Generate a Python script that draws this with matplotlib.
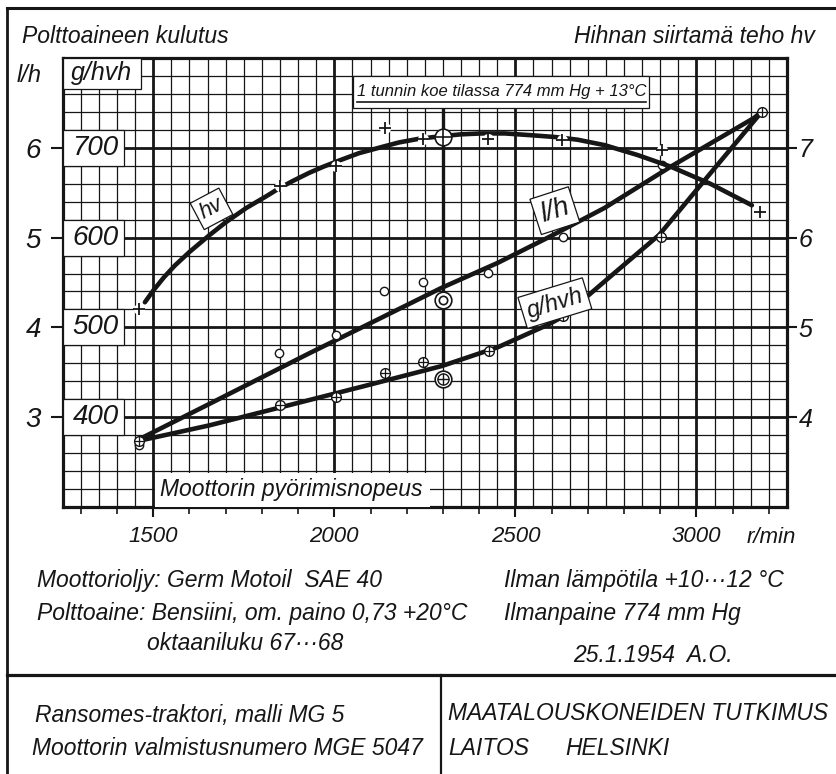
import numpy as np
import matplotlib
matplotlib.use("Agg")
import matplotlib.pyplot as plt
from matplotlib.patches import Rectangle
from matplotlib.lines import Line2D

plt.rcParams["font.family"] = ["Liberation Sans", "DejaVu Sans"]
plt.rcParams["font.style"] = "italic"

INK = "#161616"
W, H = 836, 774

# --- data (r/min) ---
# belt power hv, fair curve and measured points
hv_curve_rpm = [1477, 1500, 1530, 1560, 1600, 1656, 1700, 1757, 1812, 1848, 1885, 1930,
                1970, 2008, 2068, 2132, 2179, 2233, 2297, 2350, 2407, 2471, 2544, 2610,
                2672, 2746, 2837, 2929, 3038, 3153]
hv_curve = [5.28, 5.41, 5.56, 5.69, 5.84, 6.03, 6.17, 6.33, 6.46, 6.55, 6.63, 6.72,
            6.79, 6.85, 6.94, 7.01, 7.06, 7.10, 7.13, 7.15, 7.16, 7.16, 7.14, 7.12,
            7.09, 7.03, 6.92, 6.79, 6.60, 6.36]
hv_rpm = [1460, 1850, 2005, 2140, 2245, 2425, 2630, 2905, 3175]
hv_val = [5.21, 6.58, 6.80, 7.22, 7.10, 7.10, 7.09, 6.98, 6.29]

# fuel consumption l/h
lh_curve_rpm = [1464, 1656, 1930, 2086, 2296, 2452, 2590, 2746, 2929, 3158, 3180]
lh_curve = [2.76, 3.15, 3.71, 4.02, 4.44, 4.72, 5.00, 5.33, 5.79, 6.33, 6.40]
lh_rpm = [1461, 1848, 2005, 2137, 2246, 2423, 2631, 2906, 3180]
lh_val = [2.69, 3.71, 3.92, 4.41, 4.51, 4.61, 5.01, 5.81, 6.40]

# specific consumption g/hvh
g_curve_rpm = [1464, 1656, 1930, 2086, 2297, 2452, 2590, 2636, 2766, 2897, 3029, 3180]
g_curve = [374, 391, 419, 435, 457, 478, 503, 513, 558, 603, 667, 740]
g_rpm = [1461, 1850, 2005, 2141, 2246, 2427, 2631, 2901, 3180]
g_val = [374, 414, 422, 449, 462, 474, 513, 601, 740]

# 1 hour test run
test_rpm = 2300
test_hv = 7.12
test_lh = 4.30
test_g = 443

x_ticks = [1500, 2000, 2500, 3000]
lh_ticks = [3, 4, 5, 6]
g_ticks = [400, 500, 600, 700]
hv_ticks = [4, 5, 6, 7]


def px(x, y):
    return x / W, 1 - y / H


fig = plt.figure(figsize=(W / 100, H / 100), dpi=100)
fig.patch.set_facecolor("white")

x0, y0 = px(62.7, 507)
x1, y1 = px(787, 58)
ax = fig.add_axes([x0, y0, x1 - x0, y1 - y0])
ax.set_xlim(1250, 3250)
ax.set_ylim(2, 7)
ax_g = ax.twinx()
ax_g.set_ylim(300, 800)
ax_hv = ax.twinx()
ax_hv.set_ylim(3, 8)
for a in (ax_g, ax_hv):
    for s in a.spines.values():
        s.set_visible(False)
    a.patch.set_visible(False)
for s in ax.spines.values():
    s.set_linewidth(2.3)
    s.set_color(INK)

# graph paper
for xv in np.arange(1300, 3250, 50):
    major = xv % 500 == 0
    ax.axvline(xv, color=INK, lw=2.0 if major else 0.9, zorder=1)
for yv in np.arange(2.2, 6.9, 0.2):
    major = abs(yv - round(yv)) < 1e-6
    ax.axhline(yv, color=INK, lw=2.0 if major else 0.9, zorder=1)

# ticks
ax.set_xticks(x_ticks)
ax.set_xticks(np.arange(1300, 3250, 100), minor=True)
ax.tick_params(axis="x", which="major", direction="out", length=7.5, width=1.5,
               labelsize=16, pad=6, colors=INK)
ax.tick_params(axis="x", which="minor", direction="out", length=5, width=1.2, colors=INK)
ax.set_yticks(lh_ticks)
ax.set_yticklabels([str(v) for v in lh_ticks])
ax.tick_params(axis="y", direction="out", length=8.5, width=1.5, labelsize=20, pad=7,
               colors=INK)
ax_g.set_yticks([])
ax_hv.set_yticks(hv_ticks)
ax_hv.set_yticklabels([str(v) for v in hv_ticks])
ax_hv.tick_params(axis="y", direction="out", length=7.2, width=1.5, labelsize=18, pad=1,
                  colors=INK)

# left scale boxes (g/hvh values)
for v in lh_ticks:
    ax.add_patch(Rectangle((1250, v - 0.2), 170, 0.4, fc="white", ec=INK, lw=0.9, zorder=3))
for g in g_ticks:
    ax_g.text(1341, g, str(g), ha="center", va="center", fontsize=20, color=INK, zorder=4)
ax.add_patch(Rectangle((1250, 6.66), 217, 0.34, fc="white", ec=INK, lw=0.9, zorder=3))
ax.text(1358, 6.83, "g/hvh", ha="center", va="center", fontsize=18, color=INK, zorder=4)

# x axis title box
ax.add_patch(Rectangle((1504, 2.0), 760, 0.38, fc="white", ec="none", zorder=3))
ax.text(1519, 2.12, "Moottorin pyörimisnopeus", ha="left", va="baseline",
        fontsize=16.5, color=INK, zorder=4)

# annotation for the test run
ax.add_patch(Rectangle((2051, 6.44), 819, 0.355, fc="white", ec=INK, lw=0.9, zorder=3))
ann = ax.text(2062, 6.58, "1 tunnin koe tilassa 774 mm Hg + 13°C", ha="left",
              va="baseline", fontsize=12, color=INK, zorder=4)
ax.vlines(test_rpm, 3.57, 6.44, color=INK, lw=2.4, zorder=2)

# curves
lw = 3.3
ax_hv.plot(hv_curve_rpm, hv_curve, color=INK, lw=lw, solid_capstyle="round",
           solid_joinstyle="round", zorder=2)
ax.plot(lh_curve_rpm, lh_curve, color=INK, lw=lw, solid_capstyle="round",
        solid_joinstyle="round", zorder=2)
ax_g.plot(g_curve_rpm, g_curve, color=INK, lw=lw, solid_capstyle="round",
          solid_joinstyle="round", zorder=2)

# measured points
ax_hv.plot(hv_rpm, hv_val, ls="none", marker="o", ms=8, mfc="white", mec="none", zorder=3)
ax_hv.plot(hv_rpm, hv_val, ls="none", marker="+", ms=9, mew=1.3, color=INK, zorder=4)
ax.plot(lh_rpm, lh_val, ls="none", marker="o", ms=6, mfc="white", mec=INK, mew=1.0, zorder=4)
ax_g.plot(g_rpm, g_val, ls="none", marker="o", ms=7, mfc="white", mec=INK, mew=1.0, zorder=4)
ax_g.plot(g_rpm, g_val, ls="none", marker="+", ms=7, mew=0.9, color=INK, zorder=5)

# test run points
ax_hv.plot([test_rpm], [test_hv], ls="none", marker="o", ms=12, mfc="white", mec=INK,
           mew=1.2, zorder=4)
ax_hv.plot([test_rpm], [test_hv], ls="none", marker="+", ms=12, mew=1.2, color=INK, zorder=5)
ax.plot([test_rpm], [test_lh], ls="none", marker="o", ms=12, mfc="white", mec=INK,
        mew=1.2, zorder=4)
ax.plot([test_rpm], [test_lh], ls="none", marker="o", ms=6, mfc="white", mec=INK,
        mew=1.2, zorder=5)
ax_g.plot([test_rpm], [test_g], ls="none", marker="o", ms=12, mfc="white", mec=INK,
          mew=1.2, zorder=4)
ax_g.plot([test_rpm], [test_g], ls="none", marker="o", ms=8, mfc="white", mec=INK,
          mew=1.0, zorder=5)
ax_g.plot([test_rpm], [test_g], ls="none", marker="+", ms=8, mew=1.0, color=INK, zorder=6)

# curve labels
box = dict(boxstyle="square,pad=0.2", fc="white", ec=INK, lw=0.9)
ax_hv.text(1661, 6.32, "hv", rotation=28, ha="center", va="center", fontsize=16,
           color=INK, bbox=box, zorder=6)
ax.text(2609, 5.30, "l/h", rotation=18, ha="center", va="center", fontsize=20,
        color=INK, bbox=box, zorder=6)
ax_g.text(2609, 527, "g/hvh", rotation=17, ha="center", va="center", fontsize=17,
          color=INK, bbox=box, zorder=6)

# sheet texts
def put(x, y, s, size=16.5, ha="left"):
    fig.text(*px(x, y), s, ha=ha, va="baseline", fontsize=size, color=INK)


put(22, 43, "Polttoaineen kulutus")
put(815, 43, "Hihnan siirtamä teho hv", ha="right")
put(17, 82, "l/h", size=17)
put(747, 543, "r/min", size=16)
put(37, 587, "Moottorioljy: Germ Motoil  SAE 40")
put(504, 587, "Ilman lämpötila +10···12 °C")
put(37, 620, "Polttoaine: Bensiini, om. paino 0,73 +20°C")
put(504, 620, "Ilmanpaine 774 mm Hg")
put(147, 650, "oktaaniluku 67···68")
put(573, 662, "25.1.1954  A.O.")
put(35, 722, "Ransomes-traktori, malli MG 5")
put(448, 720, "MAATALOUSKONEIDEN TUTKIMUS")
put(32, 755, "Moottorin valmistusnumero MGE 5047")
put(448, 755, "LAITOS")
put(565, 755, "HELSINKI")

# sheet frame
frame = [
    ([7, W], [8, 8], 2.2),
    ([7, 7], [8, H], 2.0),
    ([7, W], [675, 675], 2.3),
    ([441, 441], [675, H], 1.6),
]
for xs, ys, w in frame:
    fig.add_artist(Line2D([x / W for x in xs], [1 - y / H for y in ys], color=INK,
                          lw=w, transform=fig.transFigure))

# underline the annotation
fig.canvas.draw()
bb = ann.get_window_extent()
fx0, fy = fig.transFigure.inverted().transform((bb.x0, bb.y0 - 3))
fx1, _ = fig.transFigure.inverted().transform((bb.x1, bb.y0 - 3))
fig.add_artist(Line2D([fx0, fx1], [fy, fy], color=INK, lw=1.2, transform=fig.transFigure,
                      zorder=5))

fig.savefig("out.png", dpi=100)
